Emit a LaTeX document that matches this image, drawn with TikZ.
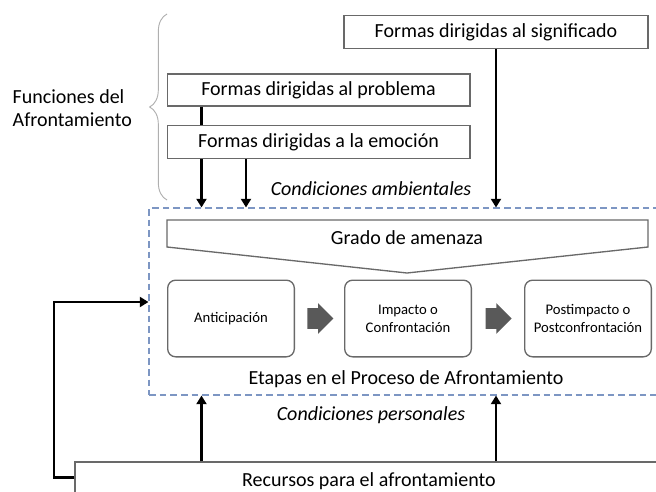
\documentclass[tikz,border=0pt]{standalone}
\usepackage{fontspec}
\setmainfont{Carlito}
\usetikzlibrary{positioning,arrows.meta,shapes.arrows,decorations.pathreplacing}
\definecolor{boxgray}{RGB}{105,105,105}
\definecolor{pasogray}{RGB}{89,89,89}
\definecolor{bracegray}{RGB}{175,175,175}
\definecolor{marcoblue}{RGB}{125,150,195}
\tikzset{forma/.style={draw=boxgray,line width=1pt,minimum width=227pt,minimum height=25pt,inner sep=0pt,font=\fontsize{15}{17}\selectfont}}
\tikzset{etapa/.style={draw=boxgray,line width=1pt,rounded corners=6pt,minimum width=95pt,minimum height=57.5pt,inner sep=0pt,align=center,font=\fontsize{11}{13.5}\selectfont}}
\tikzset{paso/.style={single arrow,fill=pasogray,draw=none,minimum height=19.5pt,inner xsep=0pt,inner ysep=7.5pt,single arrow head extend=3.75pt}}
\tikzset{flecha/.style={line width=1.8pt,-{Triangle[length=6.5pt,width=7.5pt]}}}
\tikzset{rotulo/.style={font=\fontsize{15}{17.5}\selectfont}}

\begin{document}
\begin{tikzpicture}[x=0.75pt,y=-0.75pt]
        \useasboundingbox (0,0) rectangle (656,492);
        \clip (0,0) rectangle (656,492);
        % formas de afrontamiento
        \node[forma,minimum width=228pt] (signif) at (496,32) {Formas dirigidas al significado};
        \node[forma,minimum height=24pt] (problema) at (318.5,90) {Formas dirigidas al problema};
        \node[forma,below=13.5pt of problema] (emocion) {Formas dirigidas a la emoción};
        \draw[bracegray,line width=0.7pt,decorate,decoration={brace,amplitude=13pt}] (167,200) -- (167,14);
        \node[rotulo,anchor=west,align=left] (funciones) at (8,108) {Funciones del\\Afrontamiento};
        \node[rotulo,font=\fontsize{15}{17}\itshape] (ambiente) at (371,189) {Condiciones ambientales};
        % marco de etapas
        \node[draw=marcoblue,line width=0.8pt,dash pattern=on 5pt off 3pt,minimum width=385.5pt,minimum height=140.25pt,inner sep=0pt] (marco) at (406,301.5) {};
        \draw[boxgray,line width=1pt] (167,220) -- (648,220) -- (648,247) -- (407,273) -- (167,247) -- cycle;
        \node[rotulo] (grado) at (407,238) {Grado de amenaza};
        \node[etapa] (anticipa) at (231,318.5) {Anticipación};
        \node[paso,right=9pt of anticipa] (p1) {};
        \node[etapa,right=36.75pt of anticipa] (impacto) {Impacto o\\Confrontación};
        \node[paso,right=10pt of impacto] (p2) {};
        \node[etapa,right=39pt of impacto] (post) {Postimpacto o\\Postconfrontación};
        \node[rotulo] (etapas) at (406,379) {Etapas en el Proceso de Afrontamiento};
        \node[rotulo,font=\fontsize{15}{17}\itshape] (personal) at (371,415) {Condiciones personales};
        % recursos
        \node[forma,minimum width=441pt,minimum height=28.5pt] (recursos) at (369,481) {Recursos para el afrontamiento};
        % conectores
        \coordinate (x1) at (201.5,0);
        \coordinate (x2) at (246,0);
        \coordinate (fb) at (54,302);
        \draw[line width=1.8pt] (problema.south -| x1) -- (emocion.north -| x1);
        \draw[flecha] (emocion.south -| x1) -- (marco.north -| x1);
        \draw[flecha] (emocion.south -| x2) -- (marco.north -| x2);
        \draw[flecha] (signif.south) -- (marco.north -| signif.south);
        \draw[flecha] (recursos.north -| x1) -- (marco.south -| x1);
        \draw[flecha] (recursos.north -| signif.south) -- (marco.south -| signif.south);
        \draw[flecha] ([yshift=-12pt]recursos.north west) -| (fb) -- (marco.west |- fb);
\end{tikzpicture}
\end{document}
